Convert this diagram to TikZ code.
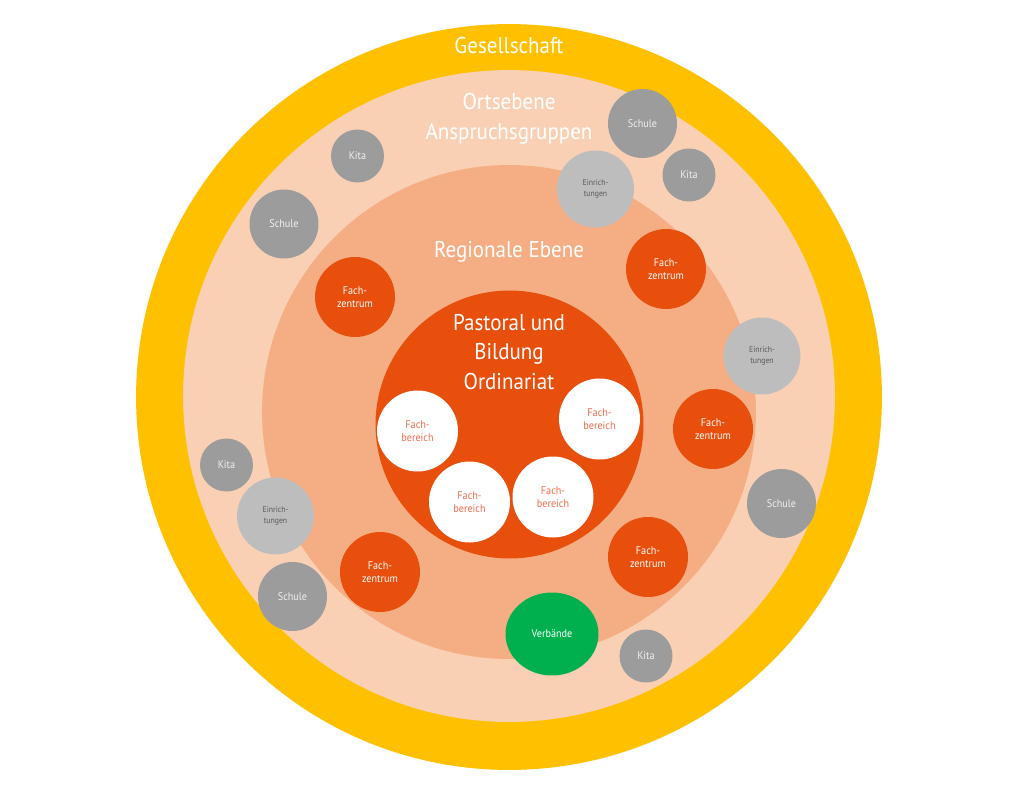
\documentclass[tikz,border=0pt]{standalone}
\usepackage{fontspec}
\setmainfont{PT Sans}[FakeStretch=0.92]
\usetikzlibrary{shapes.geometric}
\definecolor{gelb}{HTML}{FFC000}
\definecolor{rosa}{HTML}{F9D0B4}
\definecolor{lachs}{HTML}{F5AE83}
\definecolor{rot}{HTML}{E84E0C}
\definecolor{dunkelgrau}{HTML}{9C9C9C}
\definecolor{hellgrau}{HTML}{BDBDBD}
\definecolor{gruen}{HTML}{00B04F}
\definecolor{schrift}{HTML}{F06C4C}
\begin{document}
\begin{tikzpicture}
    [x=0.02cm,y=-0.02cm,
     ebene/.style={circle,inner sep=0pt},
     titel/.style={text=white,align=center,font=\fontsize{13}{17}\selectfont},
     klein/.style={circle,inner sep=0pt,align=center,font=\fontsize{6.3}{7.2}\selectfont},
     kita/.style={klein,fill=dunkelgrau,text=white!94!black,minimum size=1.06cm},
     schule/.style={klein,fill=dunkelgrau,text=white!94!black,minimum size=1.38cm},
     einr/.style={klein,fill=hellgrau,text=black!65,minimum size=1.54cm,
       font=\fontsize{4.8}{6}\selectfont},
     zentrum/.style={klein,fill=rot,text=white,minimum size=1.6cm},
     bereich/.style={klein,fill=white,text=schrift,minimum size=1.62cm}]
    \useasboundingbox [fill=white] (0,0) rectangle (1024,788);
    % Ebenen
    \node [ebene,fill=gelb,minimum size=14.92cm] (ges) at (509,397) {};
    \node [ebene,fill=rosa,minimum size=13.04cm] (ort) at (509,396) {};
    \node [ebene,fill=lachs,minimum size=9.88cm] (reg) at (509,412) {};
    \node [ebene,fill=rot,minimum size=5.36cm] (ordi) at (509.5,424.5) {};
    \node [titel] (tges) at (509,46) {Gesellschaft};
    \node [titel] (tort) at (509,119) {Ortsebene\\Anspruchsgruppen};
    \node [titel] (treg) at (509,252) {Regionale Ebene};
    \node [titel] (tordi) at (509,352) {Pastoral und\\Bildung\\Ordinariat};
    % Fachbereiche
    \node [bereich] (fb1) at (417.5,431) {Fach-\\bereich};
    \node [bereich] (fb2) at (599.5,419) {Fach-\\bereich};
    \node [bereich] (fb3) at (469.5,502) {Fach-\\bereich};
    \node [bereich] (fb4) at (553,497) {Fach-\\bereich};
    % Fachzentren
    \node [zentrum] (fz1) at (355,297) {Fach-\\zentrum};
    \node [zentrum] (fz2) at (666,269) {Fach-\\zentrum};
    \node [zentrum] (fz3) at (713,429) {Fach-\\zentrum};
    \node [zentrum] (fz4) at (380,572) {Fach-\\zentrum};
    \node [zentrum] (fz5) at (648,557) {Fach-\\zentrum};
    \node [ellipse,inner sep=0pt,fill=gruen,text=white,minimum width=1.86cm,
      minimum height=1.66cm,font=\fontsize{6.3}{7.2}\selectfont] (verb) at (552,634) {Verbände};
    % Ortsebene
    \node [einr] (ei1) at (595.5,189) {Einrich-\\tungen};
    \node [schule] (s1) at (642.5,123.5) {Schule};
    \node [kita] (k1) at (689,175) {Kita};
    \node [kita] (k2) at (357.5,156) {Kita};
    \node [schule] (s2) at (284,224) {Schule};
    \node [einr] (ei2) at (762,356) {Einrich-\\tungen};
    \node [schule] (s3) at (781.5,503.5) {Schule};
    \node [kita] (k3) at (226.5,465) {Kita};
    \node [einr] (ei3) at (275.5,516) {Einrich-\\tungen};
    \node [schule] (s4) at (292.5,596.5) {Schule};
    \node [kita] (k4) at (646,656) {Kita};
\end{tikzpicture}
\end{document}
